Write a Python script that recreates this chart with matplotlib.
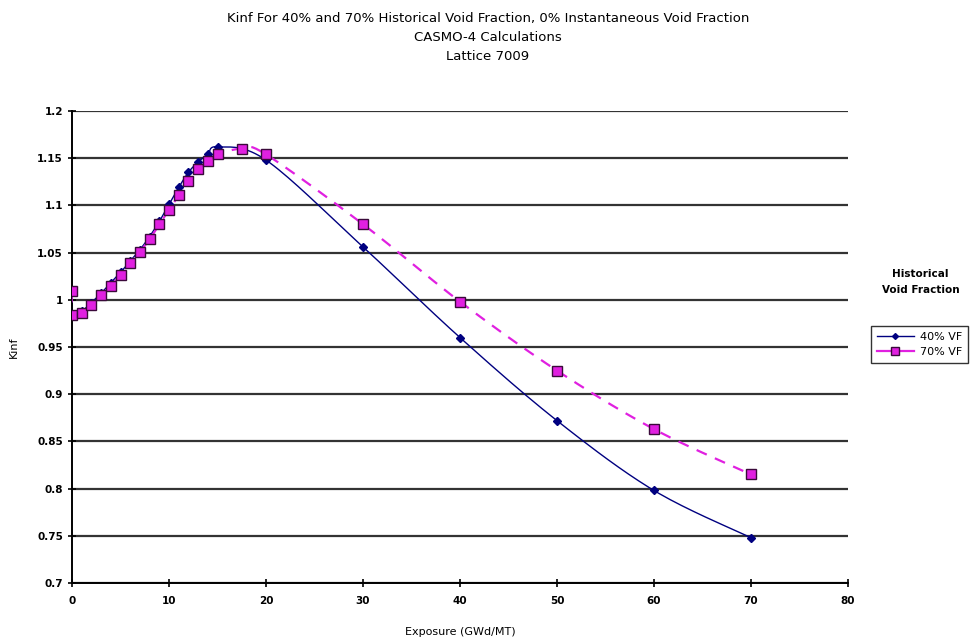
import numpy as np
import matplotlib
matplotlib.use("Agg")
from matplotlib import pyplot as plt

# exposure (GWd/MT) and kinf
exp_40 = [0, 0, 1, 2, 3, 4, 5, 6, 7, 8, 9, 10, 11, 12, 13, 14, 15, 20, 30, 40, 50, 60, 70]
kinf_40 = [1.010, 0.985, 0.988, 0.997, 1.007, 1.018, 1.029, 1.041, 1.053, 1.067, 1.083,
           1.101, 1.119, 1.135, 1.146, 1.154, 1.162, 1.148, 1.056, 0.960, 0.872, 0.798, 0.748]

exp_70 = [0, 0, 1, 2, 3, 4, 5, 6, 7, 8, 9, 10, 11, 12, 13, 14, 15, 17.5, 20, 30, 40, 50, 60, 70]
kinf_70 = [1.009, 0.984, 0.986, 0.995, 1.005, 1.015, 1.026, 1.039, 1.051, 1.064, 1.080,
           1.095, 1.111, 1.126, 1.138, 1.147, 1.154, 1.160, 1.154, 1.080, 0.998, 0.925,
           0.863, 0.815]

x_ticks = [0, 10, 20, 30, 40, 50, 60, 70, 80]
y_ticks = [0.7, 0.75, 0.8, 0.85, 0.9, 0.95, 1.0, 1.05, 1.1, 1.15, 1.2]
y_labels = ["0.7", "0.75", "0.8", "0.85", "0.9", "0.95", "1", "1.05", "1.1", "1.15", "1.2"]


def smooth(x, y, n=20):
    # Catmull-Rom curve through the points, like an Excel smoothed line
    p = np.column_stack([x, y]).astype(float)
    p = np.vstack([p[0], p, p[-1]])
    out = []
    t = np.linspace(0, 1, n)[:, None]
    for i in range(1, len(p) - 2):
        p0, p1, p2, p3 = p[i - 1], p[i], p[i + 1], p[i + 2]
        seg = 0.5 * ((2 * p1) + (-p0 + p2) * t + (2 * p0 - 5 * p1 + 4 * p2 - p3) * t ** 2
                     + (-p0 + 3 * p1 - 3 * p2 + p3) * t ** 3)
        out.append(seg)
    out = np.vstack(out)
    return out[:, 0], out[:, 1]


fig = plt.figure(figsize=(9.76, 6.44), dpi=100)
ax = fig.add_axes([0.0738, 0.0947, 0.795, 0.733])

sx, sy = smooth(exp_40, kinf_40)
ax.plot(sx, sy, color="#000080", lw=1.0, zorder=3)
ax.plot(exp_40, kinf_40, ls="none", marker="D", ms=4, color="#000080", zorder=4)

sx, sy = smooth(exp_70, kinf_70)
ax.plot(sx, sy, color="#E020E0", lw=1.6, ls=(0, (5, 4)), zorder=3)
ax.plot(exp_70, kinf_70, ls="none", marker="s", ms=7, mfc="#E020E0", mec="#3a0a3a",
        mew=1.0, zorder=5)

# legend proxies
h40, = ax.plot([], [], color="#000080", lw=1.0, marker="D", ms=3)
h70, = ax.plot([], [], color="#E020E0", lw=1.6, marker="s", ms=6, mfc="#E020E0", mec="#3a0a3a")

ax.set_xlim(0, 80)
ax.set_ylim(0.7, 1.2)
ax.set_xticks(x_ticks)
ax.set_yticks(y_ticks)
ax.set_yticklabels(y_labels)
ax.tick_params(direction="inout", length=6, width=1.2, labelsize=7.5)
ax.tick_params(axis="x", pad=6)
for lab in ax.get_xticklabels() + ax.get_yticklabels():
    lab.set_fontweight("bold")
ax.yaxis.grid(True, color="#333333", lw=1.6)
ax.set_axisbelow(True)
for s in ["top", "right"]:
    ax.spines[s].set_visible(False)
for s in ["left", "bottom"]:
    ax.spines[s].set_linewidth(1.4)

ax.set_xlabel("Exposure (GWd/MT)", fontsize=8)
ax.xaxis.set_label_coords(0.5, -0.093)
ax.set_ylabel("Kinf", fontsize=8)
ax.yaxis.set_label_coords(-0.068, 0.5)

fig.text(0.5, 0.972, "Kinf For 40% and 70% Historical Void Fraction, 0% Instantaneous Void Fraction",
         ha="center", va="center", fontsize=9.5)
fig.text(0.5, 0.941, "CASMO-4 Calculations", ha="center", va="center", fontsize=9.5)
fig.text(0.5, 0.912, "Lattice 7009", ha="center", va="center", fontsize=9.5)

fig.text(0.943, 0.562, "Historical\nVoid Fraction", ha="center", va="center",
         fontsize=7.5, fontweight="bold", linespacing=1.8)
leg = fig.legend([h40, h70], ["40% VF", "70% VF"], loc="center",
                 bbox_to_anchor=(0.942, 0.465), fontsize=8, frameon=True,
                 fancybox=False, edgecolor="black", handlelength=3.4,
                 borderpad=0.5, labelspacing=0.5, handletextpad=0.5)
leg.get_frame().set_linewidth(1.0)

fig.savefig("out.png", dpi=100)
